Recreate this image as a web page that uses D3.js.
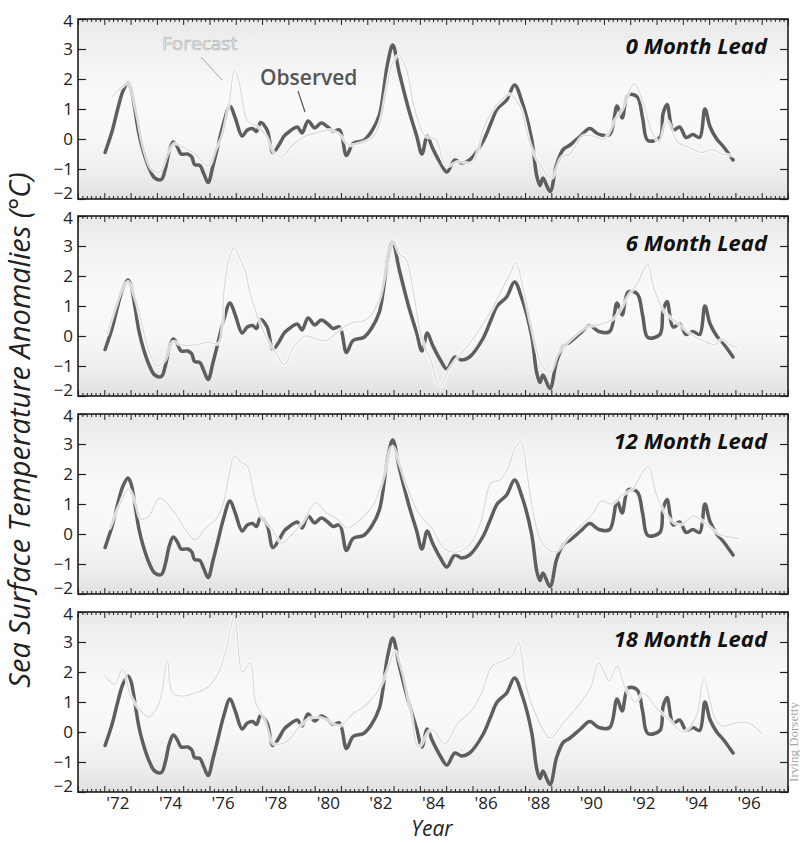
<!DOCTYPE html>
<html>
<head>
<meta charset="utf-8">
<script src="https://cdn.jsdelivr.net/npm/d3@7"></script>
<style>
  html, body { margin: 0; padding: 0; background: #ffffff; }
  svg { display: block; }
</style>
</head>
<body>
<svg id="chart" width="800" height="843"></svg>
<script>
// ---------------- DATA ----------------
const panelTitles = ["0 Month Lead", "6 Month Lead", "12 Month Lead", "18 Month Lead"];
const yTickValues = [-2, -1, 0, 1, 2, 3, 4];
const xTickLabels = ["'72", "'74", "'76", "'78", "'80", "'82", "'84", "'86", "'88", "'90", "'92", "'94", "'96"];
const xTickLabelYears = [1972, 1974, 1976, 1978, 1980, 1982, 1984, 1986, 1988, 1990, 1992, 1994, 1996];

// Observed SST anomaly (same in every panel)
const obsYears = [72.03,72.31,72.51,72.71,72.90,73.01,73.16,73.31,73.48,73.72,73.92,74.17,74.32,74.47,74.62,74.77,74.92,75.18,75.33,75.43,75.63,75.78,75.95,76.13,76.33,76.53,76.78,76.98,77.24,77.44,77.64,77.79,77.94,78.19,78.41,78.64,78.84,79.04,79.34,79.52,79.75,80.00,80.25,80.50,80.70,80.95,81.21,81.46,81.86,82.16,82.46,82.77,82.97,83.22,83.57,83.88,84.08,84.28,84.48,84.78,85.03,85.33,85.59,85.89,86.39,86.69,86.94,87.30,87.60,87.90,88.25,88.45,88.57,88.68,88.95,89.20,89.45,89.71,90.11,90.46,90.81,91.22,91.50,91.69,91.92,92.27,92.47,92.67,93.13,93.25,93.40,93.63,93.88,94.13,94.38,94.64,94.84,95.04,95.29,95.54,95.91];
const obsValues = [-0.45,0.3,1.0,1.6,1.87,1.7,1.0,0.2,-0.4,-1.0,-1.3,-1.35,-1.0,-0.4,-0.1,-0.25,-0.5,-0.5,-0.6,-0.85,-0.88,-1.15,-1.45,-0.9,-0.2,0.5,1.1,0.7,0.1,0.3,0.35,0.25,0.55,0.3,-0.45,-0.2,0.1,0.25,0.4,0.2,0.6,0.37,0.53,0.4,0.25,0.3,-0.55,-0.15,-0.05,0.25,0.8,2.5,3.13,2.2,1.0,0.1,-0.5,0.1,-0.3,-0.8,-1.1,-0.7,-0.8,-0.7,-0.1,0.5,1.0,1.3,1.8,1.2,0.0,-1.25,-1.55,-1.3,-1.75,-0.85,-0.35,-0.2,0.1,0.35,0.15,0.15,1.1,0.7,1.47,1.4,0.7,-0.05,0.05,0.85,1.15,0.3,0.4,0.05,0.15,0.05,1.0,0.4,0.0,-0.25,-0.7];

// Forecasts, one series per lead time
const fc0Years = [72.3,72.9,73.2,73.5,73.8,74.1,74.4,74.7,75.05,75.45,75.95,76.25,76.45,76.75,76.95,77.15,77.45,77.85,78.15,78.45,78.75,79.15,79.65,80.05,80.6,81.0,81.3,81.7,82.2,82.5,82.7,82.95,83.2,83.5,83.8,84.2,84.6,85.0,85.5,86.0,86.4,86.8,87.1,87.4,87.8,88.2,88.6,89.0,89.4,89.7,90.2,90.6,91.0,91.4,91.7,92.15,92.5,92.8,93.1,93.4,93.8,94.3,94.7,95.1,95.5,95.9];
const fc0Values = [1.4,1.85,1.0,-0.3,-1.0,-1.1,-0.5,-0.15,-0.3,-0.5,-0.9,-0.3,0.0,1.2,2.3,1.8,0.6,0.4,0.1,-0.45,-0.6,-0.2,0.1,0.2,0.3,0.1,-0.2,-0.15,0.05,0.6,1.5,2.5,2.8,2.3,1.0,0.1,0.0,-0.9,-0.75,-0.8,0.3,1.0,1.3,1.5,1.1,-0.2,-0.9,-1.3,-0.6,-0.5,0.1,0.1,0.0,0.6,1.0,1.85,1.2,0.3,-0.1,0.6,-0.1,-0.3,-0.45,-0.35,-0.5,-0.55];

const fc6Years = [72.1,72.4,72.7,72.9,73.2,73.4,73.7,74.0,74.3,74.6,74.95,75.45,75.95,76.35,76.55,76.75,76.95,77.15,77.35,77.55,77.85,78.25,78.55,78.85,79.25,79.65,80.05,80.45,80.95,81.45,81.85,82.15,82.45,82.75,83.0,83.25,83.45,83.75,84.05,84.45,84.75,85.05,85.45,85.85,86.25,86.75,87.15,87.45,87.65,87.95,88.25,88.65,88.95,89.25,89.75,90.35,90.9,91.4,91.9,92.3,92.65,92.9,93.3,93.7,94.1,94.5,94.9,95.2,95.5,95.8,96.1];
const fc6Values = [0.05,0.9,1.6,1.8,1.2,0.5,-0.5,-1.0,-0.8,-0.2,-0.3,-0.3,-0.2,-0.25,1.5,2.6,2.95,2.6,2.2,1.4,0.6,-0.2,-0.6,-0.95,-0.3,0.0,-0.1,-0.15,0.2,0.45,0.5,0.7,1.2,2.4,3.15,2.7,2.6,1.5,0.0,-0.9,-1.7,-1.2,-0.7,-0.3,0.2,0.9,1.6,2.1,2.45,1.5,0.3,-1.0,-1.2,-0.6,-0.1,0.3,0.4,0.6,1.3,1.8,2.4,1.6,0.8,0.5,0.2,-0.05,-0.2,-0.3,-0.1,-0.3,-0.4];

const fc12Years = [72.2,72.6,72.9,73.2,73.4,73.7,74.1,74.6,75.05,75.45,75.85,76.25,76.55,76.75,76.95,77.2,77.45,77.65,77.95,78.35,78.75,79.15,79.55,80.05,80.45,80.85,81.25,81.75,82.25,82.65,82.95,83.25,83.55,83.95,84.45,84.95,85.45,85.95,86.35,86.7,87.05,87.35,87.65,87.85,88.05,88.25,88.65,89.15,89.65,90.15,90.6,90.9,91.3,91.7,92.1,92.5,92.7,93.0,93.4,93.9,94.4,94.8,95.2,95.5,95.8,96.1];
const fc12Values = [0.2,1.0,1.5,1.0,0.5,0.6,1.2,0.8,0.2,-0.2,0.2,0.5,1.1,2.0,2.6,2.4,2.25,1.5,0.6,0.2,-0.3,0.0,0.4,1.05,0.7,0.5,0.2,0.5,1.0,2.0,2.9,2.3,1.5,0.7,0.2,-0.5,-0.6,-0.3,0.5,1.7,1.8,2.2,2.9,3.1,2.2,1.0,-0.3,-0.6,-0.1,0.3,0.7,1.1,1.0,1.3,1.5,2.1,2.25,1.3,0.6,0.3,0.6,0.4,0.1,-0.05,-0.1,-0.15];

const fc18Years = [72.0,72.2,72.4,72.7,73.0,73.3,73.7,74.1,74.4,74.6,75.05,75.45,75.95,76.35,76.65,76.95,77.25,77.55,77.75,78.05,78.45,78.95,79.45,79.95,80.45,80.95,81.45,81.95,82.35,82.75,83.05,83.35,83.65,83.95,84.45,84.95,85.45,85.95,86.35,86.75,87.25,87.55,87.75,88.05,88.45,88.95,89.45,89.95,90.5,90.8,91.2,91.5,91.8,92.2,92.5,93.0,93.5,94.0,94.5,94.8,95.2,95.5,96.0,96.5,97.0];
const fc18Values = [1.9,1.7,1.6,2.1,1.2,0.8,0.5,1.0,2.4,1.3,1.2,1.3,1.5,2.0,2.8,3.9,2.0,2.3,1.0,0.5,-0.4,-0.3,0.2,0.5,0.4,0.2,0.6,0.9,1.3,2.0,2.7,2.0,0.7,-0.5,0.1,-0.4,0.3,0.7,1.3,2.2,2.4,2.6,3.0,1.5,0.5,-0.2,0.3,0.8,1.5,2.3,1.7,2.2,1.5,1.0,1.3,0.8,0.4,0.0,0.5,1.8,0.5,0.2,0.3,0.3,-0.05];

const forecastYears = [fc0Years, fc6Years, fc12Years, fc18Years];
const forecastValues = [fc0Values, fc6Values, fc12Values, fc18Values];

// ---------------- LAYOUT ----------------
const svg = d3.select("#chart");
const plotLeft = 78, plotRight = 788;
const panelTops = [19, 216, 414, 612];
const panelH = 180;
const FONT = "'Open Sans', 'Noto Sans', sans-serif";

const x = d3.scaleLinear().domain([71, 98]).range([plotLeft, plotRight]);

// background gradient for the plot areas
const defs = svg.append("defs");
const grad = defs.append("linearGradient").attr("id", "bg").attr("x1", 0).attr("y1", 0).attr("x2", 0).attr("y2", 1);
[[0, "#e8e8e8"], [0.12, "#efefef"], [0.4, "#f9f9f9"], [0.65, "#f8f8f8"], [0.88, "#ececec"], [1, "#e0e0e0"]]
  .forEach(([o, c]) => grad.append("stop").attr("offset", o).attr("stop-color", c));

const obsData = obsYears.map((t, i) => ({t, v: obsValues[i]}));

panelTops.forEach((top, pi) => {
  const y = d3.scaleLinear().domain([-2, 4]).range([top + panelH, top]);
  const g = svg.append("g");

  const clipId = "clip" + pi;
  defs.append("clipPath").attr("id", clipId)
    .append("rect").attr("x", plotLeft).attr("y", top).attr("width", plotRight - plotLeft).attr("height", panelH);

  g.append("rect").attr("x", plotLeft).attr("y", top)
    .attr("width", plotRight - plotLeft).attr("height", panelH)
    .attr("fill", "url(#bg)");

  const line = d3.line().x(d => x(d.t)).y(d => y(d.v)).curve(d3.curveCatmullRom.alpha(0.5));
  const lines = g.append("g").attr("clip-path", `url(#${clipId})`);

  // observed
  lines.append("path").datum(obsData)
    .attr("d", line).attr("fill", "none")
    .attr("stroke", "#5e5e5e").attr("stroke-width", 3.5)
    .attr("stroke-linejoin", "round").attr("stroke-linecap", "round");

  // forecast: faint line with a white halo that breaks the observed line
  const fcData = forecastYears[pi].map((t, i) => ({t, v: forecastValues[pi][i]}));
  lines.append("path").datum(fcData)
    .attr("d", line).attr("fill", "none")
    .attr("stroke", "#fafafa").attr("stroke-opacity", 0.8).attr("stroke-width", 4)
    .attr("stroke-linejoin", "round").attr("stroke-linecap", "round");
  lines.append("path").datum(fcData)
    .attr("d", line).attr("fill", "none")
    .attr("stroke", "#d8d8d8").attr("stroke-width", 1.1)
    .attr("stroke-linejoin", "round");

  // x ticks (top and bottom, inward)
  const majorTicks = d3.range(71, 99);
  const minorTicks = d3.range(71, 98, 1 / 6).filter(t => Math.abs(t - Math.round(t)) > 1e-6);
  const xTop = d3.axisTop(x).tickValues(majorTicks).tickSize(-6).tickFormat("");
  const xTopMinor = d3.axisTop(x).tickValues(minorTicks).tickSize(-3).tickFormat("");
  const xBot = d3.axisBottom(x).tickValues(majorTicks).tickSize(-6).tickFormat("");
  const xBotMinor = d3.axisBottom(x).tickValues(minorTicks).tickSize(-3).tickFormat("");
  [[xTop, top], [xTopMinor, top], [xBot, top + panelH], [xBotMinor, top + panelH]].forEach(([ax, ty]) => {
    const a = g.append("g").attr("transform", `translate(0,${ty})`).call(ax);
    a.select(".domain").remove();
    a.selectAll("line").attr("stroke", "#222").attr("stroke-width", 1);
  });

  // y axes (inside ticks on both sides)
  const yLeft = d3.axisLeft(y).tickValues(yTickValues).tickSize(-8).tickPadding(5)
    .tickFormat(d => d < 0 ? "\u2212" + Math.abs(d) : d);
  const aL = g.append("g").attr("transform", `translate(${plotLeft},0)`).call(yLeft);
  aL.select(".domain").remove();
  aL.selectAll("line").attr("stroke", "#222").attr("stroke-width", 1.2);
  aL.selectAll("text").attr("font-family", FONT).attr("font-size", 17).attr("fill", "#222")
    .attr("dy", d => d === -2 ? "-0.05em" : (d === 4 ? "0.42em" : "0.32em"));

  const yRight = d3.axisRight(y).tickValues(yTickValues).tickSize(-8).tickFormat("");
  const aR = g.append("g").attr("transform", `translate(${plotRight},0)`).call(yRight);
  aR.select(".domain").remove();
  aR.selectAll("line").attr("stroke", "#222").attr("stroke-width", 1.2);

  // frame
  g.append("rect").attr("x", plotLeft).attr("y", top)
    .attr("width", plotRight - plotLeft).attr("height", panelH)
    .attr("fill", "none").attr("stroke", "#1e1e1e").attr("stroke-width", 1.6);

  // title
  g.append("text").attr("x", 767).attr("y", top + 35)
    .attr("text-anchor", "end").attr("font-family", FONT)
    .attr("font-size", 22).attr("font-weight", 700).attr("font-style", "italic")
    .attr("fill", "#111").text(panelTitles[pi]);

  // bottom axis labels only in the last panel
  if (pi === panelTops.length - 1) {
    const xLab = d3.axisBottom(x).tickValues(xTickLabelYears.map(v => v - 1900 + 0.5)).tickSize(0).tickPadding(5)
      .tickFormat((d, i) => xTickLabels[i]);
    const aX = g.append("g").attr("transform", `translate(0,${top + panelH})`).call(xLab);
    aX.select(".domain").remove();
    aX.selectAll("text").attr("font-family", FONT).attr("font-size", 17).attr("fill", "#222");
  }

  // annotations in first panel
  if (pi === 0) {
    g.append("text").attr("x", 162).attr("y", 50)
      .attr("font-family", FONT).attr("font-size", 19)
      .attr("fill", "#f2f2f2").attr("stroke", "#b4b4b4").attr("stroke-width", 0.7)
      .text("Forecast");
    g.append("line").attr("x1", 201).attr("y1", 57).attr("x2", 222).attr("y2", 80)
      .attr("stroke", "#a8a8a8").attr("stroke-width", 1);
    g.append("text").attr("x", 260).attr("y", 85)
      .attr("font-family", FONT).attr("font-size", 21).attr("font-weight", 600)
      .attr("fill", "#555").text("Observed");
    g.append("line").attr("x1", 298).attr("y1", 91).attr("x2", 305).attr("y2", 112)
      .attr("stroke", "#555").attr("stroke-width", 1.2);
  }
});

// axis titles
svg.append("text")
  .attr("transform", "translate(30,430) rotate(-90)")
  .attr("text-anchor", "middle").attr("font-family", FONT)
  .attr("font-size", 29).attr("font-style", "italic").attr("fill", "#222")
  .text("Sea Surface Temperature Anomalies (\u00B0C)");

svg.append("text").attr("x", 432).attr("y", 836)
  .attr("text-anchor", "middle").attr("font-family", FONT)
  .attr("font-size", 21).attr("font-style", "italic").attr("fill", "#222")
  .text("Year");

// credit
svg.append("text")
  .attr("transform", "translate(798,742) rotate(-90)")
  .attr("text-anchor", "middle").attr("font-family", "'Liberation Serif', serif")
  .attr("font-size", 13).attr("fill", "#a8a8a8")
  .text("Irving Dorsetty");
</script>
</body>
</html>
